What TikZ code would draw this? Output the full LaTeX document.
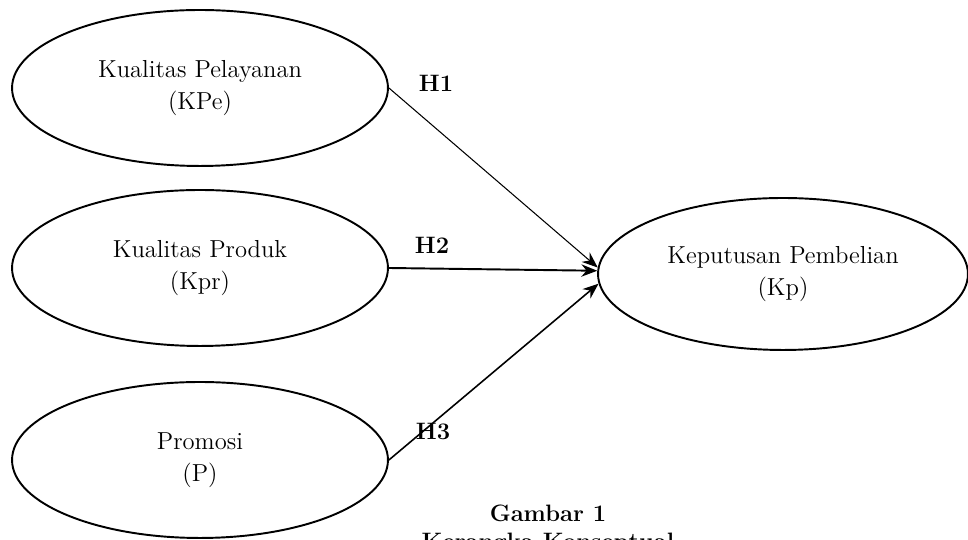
\documentclass[tikz,border=0pt]{standalone}
\usetikzlibrary{shapes.geometric,arrows.meta}
\tikzset{
  konstruk/.style={draw,ellipse,line width=1.1pt,minimum width=7.52cm,minimum height=3.12cm,inner sep=0pt,align=center,font=\fontsize{14}{18.5}\selectfont},
  hipo/.style={font=\fontsize{13.5}{16}\selectfont\bfseries},
}
\begin{document}
\begin{tikzpicture}[x=0.02cm,y=0.02cm,>={Stealth[length=9pt,width=7pt]},line join=round]
\useasboundingbox (0,0) rectangle (968,540);
% Variabel bebas
\node[konstruk] (kpe) at (200,452) {Kualitas Pelayanan\\(KPe)};
\node[konstruk] (kpr) at (200,272) {Kualitas Produk\\(Kpr)};
\node[konstruk] (p) at (200,80) {Promosi\\(P)};
% Variabel terikat
\node[konstruk,minimum width=7.4cm,minimum height=3.04cm] (kp) at (783,266) {Keputusan Pembelian\\(Kp)};
% Hipotesis
\draw[->,line width=0.6pt] (kpe.east) -- (kp.178);
\draw[->,line width=1.1pt] (kpr.east) -- (kp.179);
\draw[->,line width=0.9pt] (p.east) -- (kp.183);
\node[hipo] (h1) at (436,457) {H1};
\node[hipo] (h2) at (432,295) {H2};
\node[hipo] (h3) at (433,108) {H3};
% Judul gambar
\node[hipo,align=center] (judul) at (548,10) {Gambar 1\\Kerangka Konseptual};
\end{tikzpicture}
\end{document}
